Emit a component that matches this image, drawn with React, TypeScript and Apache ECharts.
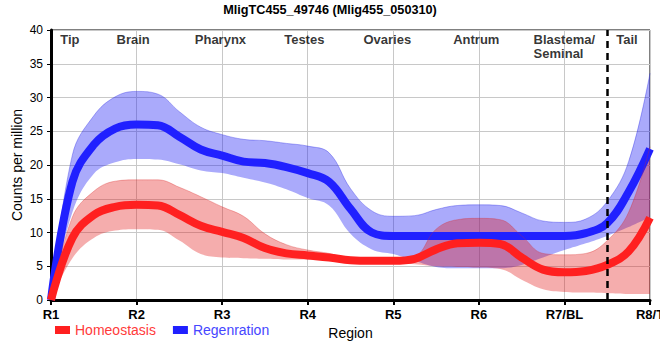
import React, { useEffect, useRef } from "react";
import * as echarts from "echarts";

const FONT = "'Liberation Sans', Arial, sans-serif";

const titleText = "MligTC455_49746 (Mlig455_050310)";
const regionTicks = ["R1", "R2", "R3", "R4", "R5", "R6", "R7/BL", "R8/T"];

// sample positions along the region axis (R1 = 0 ... R8/T = 7), every quarter region
const xs = [0, 0.25, 0.5, 0.75, 1, 1.25, 1.5, 1.75, 2, 2.25, 2.5, 2.75, 3, 3.25, 3.5, 3.75, 4, 4.25, 4.5, 4.75, 5, 5.25, 5.5, 5.75, 6, 6.25, 6.5, 6.75, 7];

const regenMean = [0, 17.5, 23.0, 25.4, 26.0, 25.9, 24.2, 22.3, 21.4, 20.5, 20.3, 19.7, 18.8, 17.5, 13.5, 10.0, 9.5, 9.5, 9.5, 9.5, 9.5, 9.5, 9.5, 9.5, 9.5, 9.9, 11.4, 16.0, 22.4];
const regenUpper = [0, 21.5, 27.3, 30.1, 30.9, 30.5, 27.9, 25.6, 24.5, 23.8, 23.6, 23.2, 22.8, 21.8, 16.5, 13.2, 12.4, 12.5, 13.4, 14.0, 14.1, 14.0, 12.9, 11.7, 11.5, 12.0, 14.6, 20.5, 33.6];
const regenLower = [0, 13.0, 18.7, 20.4, 20.9, 20.8, 20.1, 19.2, 18.8, 18.1, 17.4, 16.4, 15.1, 14.0, 9.8, 7.5, 6.8, 5.8, 4.9, 4.7, 4.7, 4.7, 5.2, 6.3, 7.4, 8.4, 9.5, 10.8, 12.3];

const homeoMean = [0, 9.2, 12.6, 13.8, 14.1, 14.0, 12.6, 11.0, 10.1, 9.2, 7.7, 6.9, 6.6, 6.3, 5.9, 5.8, 5.8, 6.1, 7.5, 8.4, 8.5, 8.3, 6.3, 4.5, 4.1, 4.3, 5.2, 7.2, 12.2];
const homeoUpper = [0, 12.3, 16.1, 17.6, 17.8, 17.8, 16.7, 15.3, 13.8, 12.4, 9.8, 8.2, 7.4, 6.9, 6.2, 6.2, 6.2, 6.5, 10.5, 11.9, 12.1, 11.9, 9.5, 6.9, 6.7, 6.9, 8.8, 13.0, 22.7];
const homeoLower = [0, 6.2, 9.2, 10.3, 10.5, 10.4, 8.8, 6.8, 6.3, 6.2, 6.1, 6.0, 6.0, 5.9, 5.7, 5.5, 5.4, 5.3, 5.0, 4.9, 4.8, 4.6, 3.0, 1.6, 1.2, 1.1, 1.0, 0.9, 0.9];

const regionNames = ["Tip", "Brain", "Pharynx", "Testes", "Ovaries", "Antrum", "Blastema/\nSeminal", "Tail"];
const regionNameX = [0.22, 0.96, 1.98, 2.96, 3.93, 4.97, 5.64, 6.73];
const regionNameY = [38.6, 38.6, 38.6, 38.6, 38.6, 38.6, 37.6, 38.6];

const tailBoundary = 6.5;

const bandDiff = (up: number[], lo: number[]) => up.map((u, i) => +(u - lo[i]).toFixed(3));
const isRegion = (i: number) => xs[i] === Math.round(xs[i]);

export default function App() {
  const ref = useRef<HTMLDivElement>(null);

  useEffect(() => {
    if (!ref.current) return;
    const chart = echarts.init(ref.current, null, { renderer: "svg" });
    const blue = "#2020ff";
    const red = "#ff2020";
    const hidden = { opacity: 0, width: 0 };
    const smooth = 0.4;

    const option: any = {
      animation: false,
      title: {
        text: titleText,
        left: "center",
        top: 3,
        padding: 0,
        textStyle: { fontSize: 12.7, fontWeight: "bold", color: "#000", fontFamily: FONT },
      },
      grid: {
        left: 51,
        right: 10,
        top: 30,
        bottom: 60,
        show: true,
        borderColor: "#000",
        borderWidth: 1,
        outerBoundsMode: "none",
      },
      legend: {
        left: 50,
        top: 318,
        icon: "rect",
        itemWidth: 15,
        itemHeight: 8,
        itemGap: 17,
        selectedMode: false,
        textStyle: { fontSize: 14, fontFamily: FONT },
        data: [
          { name: "Homeostasis", textStyle: { color: "#ff3b3b" } },
          { name: "Regenration", textStyle: { color: "#4646ff" } },
        ],
      },
      xAxis: [
        {
          type: "category",
          data: xs.map(String),
          boundaryGap: false,
          name: "Region",
          nameLocation: "middle",
          nameGap: 26,
          nameMoveOverlap: false,
          nameTextStyle: { fontSize: 14, color: "#000", fontFamily: FONT },
          axisLine: { show: true, onZero: false, lineStyle: { color: "#000", width: 3 } },
          axisTick: {
            show: true,
            length: 5,
            interval: (i: number) => isRegion(i),
            lineStyle: { color: "#000", width: 2 },
          },
          axisLabel: {
            interval: (i: number) => isRegion(i),
            formatter: (v: string) => regionTicks[Math.round(Number(v))] ?? "",
            fontSize: 13,
            fontWeight: "bold",
            color: "#000",
            fontFamily: FONT,
            margin: 8,
          },
          splitLine: {
            show: true,
            interval: (i: number) => isRegion(i),
            lineStyle: { color: "#c8c8c8", width: 1 },
          },
        },
        {
          type: "value",
          min: 0,
          max: 7,
          show: false,
        },
      ],
      yAxis: {
        type: "value",
        min: 0,
        max: 40,
        interval: 5,
        name: "Counts per million",
        nameLocation: "middle",
        nameGap: 27,
        nameMoveOverlap: false,
        nameTextStyle: { fontSize: 14, color: "#000", fontFamily: FONT },
        axisLine: { show: true, lineStyle: { color: "#000", width: 3 } },
        axisTick: { show: true, length: 4, lineStyle: { color: "#000", width: 1 } },
        axisLabel: { fontSize: 12, color: "#000", fontFamily: FONT, margin: 8 },
        splitLine: { show: true, lineStyle: { color: "#c8c8c8", width: 1 } },
      },
      series: [
        {
          name: "regenLow",
          type: "line",
          stack: "regenBand",
          smooth,
          showSymbol: false,
          silent: true,
          lineStyle: hidden,
          data: regenLower,
        },
        {
          name: "regenBand",
          type: "line",
          stack: "regenBand",
          smooth,
          showSymbol: false,
          silent: true,
          lineStyle: { color: "rgba(40,40,230,0.35)", width: 1 },
          areaStyle: { color: "rgba(20,20,245,0.36)", opacity: 1 },
          data: bandDiff(regenUpper, regenLower),
        },
        {
          name: "Regenration",
          type: "line",
          smooth,
          showSymbol: false,
          color: blue,
          itemStyle: { color: blue },
          lineStyle: { color: blue, width: 8 },
          data: regenMean,
        },
        {
          name: "homeoLow",
          type: "line",
          stack: "homeoBand",
          smooth,
          showSymbol: false,
          silent: true,
          lineStyle: hidden,
          data: homeoLower,
        },
        {
          name: "homeoBand",
          type: "line",
          stack: "homeoBand",
          smooth,
          showSymbol: false,
          silent: true,
          lineStyle: { color: "rgba(220,40,40,0.3)", width: 1 },
          areaStyle: { color: "rgba(225,20,20,0.35)", opacity: 1 },
          data: bandDiff(homeoUpper, homeoLower),
        },
        {
          name: "Homeostasis",
          type: "line",
          smooth,
          showSymbol: false,
          color: red,
          itemStyle: { color: red },
          lineStyle: { color: red, width: 8 },
          data: homeoMean,
        },
        {
          name: "regions",
          type: "scatter",
          xAxisIndex: 1,
          symbolSize: 0,
          silent: true,
          z: 5,
          label: {
            show: true,
            position: "inside",
            formatter: (p: any) => p.name,
            fontSize: 13,
            fontWeight: "bold",
            color: "#000",
            fontFamily: FONT,
            lineHeight: 14,
          },
          data: regionNames.map((n, i) => ({
            name: n,
            value: [regionNameX[i], regionNameY[i]],
            label: n.includes("\n") ? { align: "left" } : undefined,
          })),
          markLine: {
            silent: true,
            symbol: ["none", "none"],
            label: { show: false },
            lineStyle: { color: "#000", width: 2.5, type: [7, 5] },
            data: [{ xAxis: tailBoundary }],
          },
        },
      ],
    };

    chart.setOption(option);
    return () => chart.dispose();
  }, []);

  return (
    <div
      ref={ref}
      style={{ position: "fixed", left: 0, top: 0, width: 660, height: 360, background: "#fff" }}
    />
  );
}
